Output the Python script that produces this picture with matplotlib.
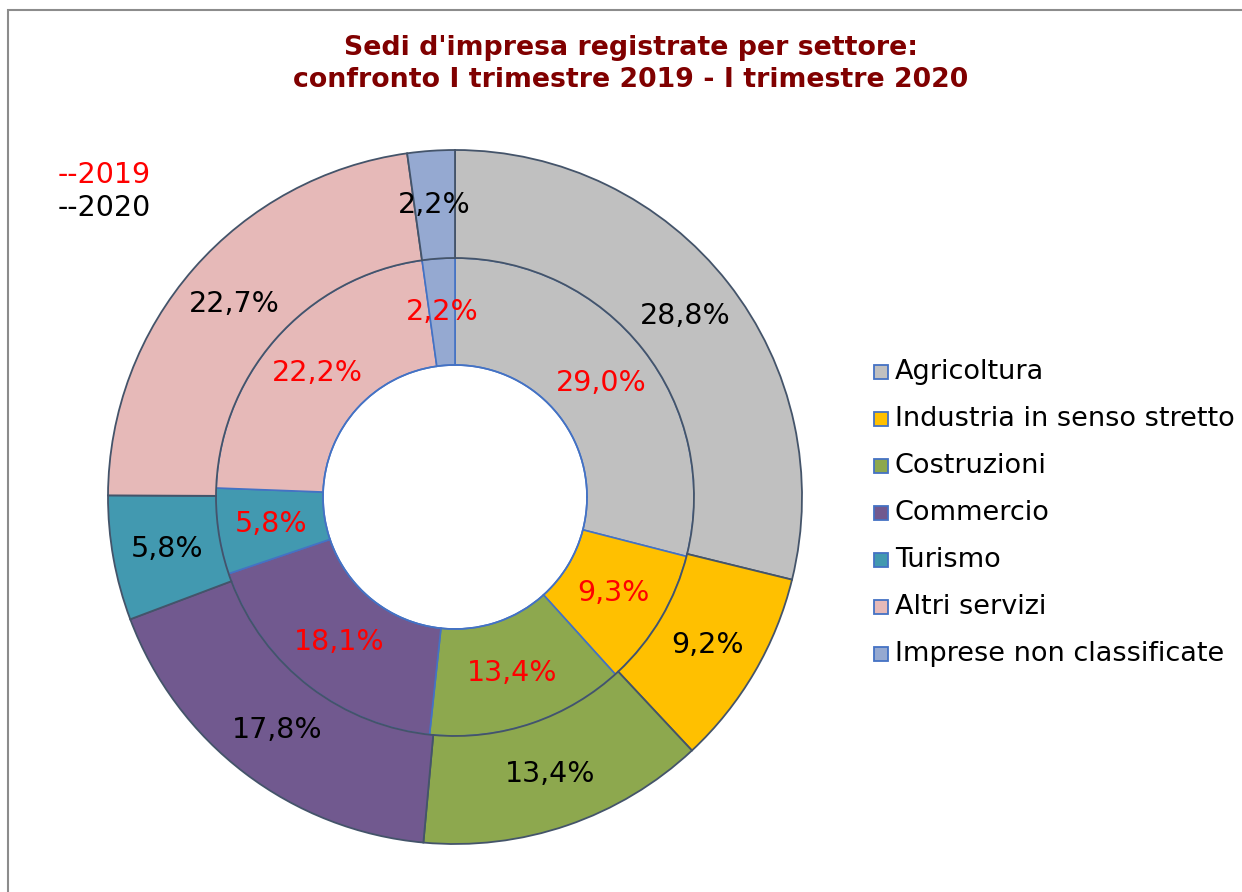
import matplotlib
matplotlib.use("Agg")
import matplotlib.pyplot as plt
from matplotlib.patches import Rectangle
import numpy as np

categories = ["Agricoltura", "Industria in senso stretto", "Costruzioni", "Commercio",
              "Turismo", "Altri servizi", "Imprese non classificate"]
values_2019 = [29.0, 9.3, 13.4, 18.1, 5.8, 22.2, 2.2]
values_2020 = [28.8, 9.2, 13.4, 17.8, 5.8, 22.7, 2.2]
colors = ["#C0C0C0", "#FFC000", "#8DA84E", "#71598F", "#4299B0", "#E6B9B8", "#95A9D1"]
title = "Sedi d'impresa registrate per settore:\nconfronto I trimestre 2019 - I trimestre 2020"

W, H = 1242, 892
fig = plt.figure(figsize=(W / 100, H / 100), dpi=100)
fig.patch.set_facecolor("white")

# frame border (left and top visible)
fig.patches.append(Rectangle((8 / W, -0.05), 1.2, (H - 10) / H + 0.05, transform=fig.transFigure,
                             fill=False, edgecolor="#8C8C8C", linewidth=1.5))

cx, cy, R = 455, 497, 347
ax = fig.add_axes([(cx - R) / W, (H - cy - R) / H, 2 * R / W, 2 * R / H])

r_hole = 132 / R
r_mid = 239 / R

fmt = lambda v: f"{v:.1f}".replace(".", ",") + "%"

# inner ring 2019
w_in, _ = ax.pie(values_2019, radius=r_mid, colors=colors, startangle=90, counterclock=False,
                 wedgeprops=dict(width=r_mid - r_hole, edgecolor="#4472C4", linewidth=1.2))
# outer ring 2020
w_out, _ = ax.pie(values_2020, radius=1.0, colors=colors, startangle=90, counterclock=False,
                  wedgeprops=dict(width=1.0 - r_mid, edgecolor="#44546A", linewidth=1.3))

ax.set_xlim(-1, 1)
ax.set_ylim(-1, 1)
ax.set_aspect("equal")
ax.axis("off")


def place(wedges, vals, rad, color):
    for w, v in zip(wedges, vals):
        ang = np.deg2rad((w.theta1 + w.theta2) / 2)
        ax.text(rad * np.cos(ang), rad * np.sin(ang), fmt(v), ha="center", va="center",
                fontsize=20.5, color=color, family="DejaVu Sans")


place(w_in, values_2019, (r_hole + r_mid) / 2, "#FF0000")
place(w_out, values_2020, (r_mid + 1.0) / 2, "#000000")

# hole outline
theta = np.linspace(0, 2 * np.pi, 400)
ax.plot(r_hole * np.cos(theta), r_hole * np.sin(theta), color="#4472C4", lw=1.2)

fig.text(631 / W, 1 - 64 / H, title, ha="center", va="center", fontsize=19.3, fontweight="bold",
         color="#800000", linespacing=1.3)

fig.text(58 / W, 1 - 175 / H, "--2019", ha="left", va="center", fontsize=20.5, color="#FF0000")
fig.text(58 / W, 1 - 208 / H, "--2020", ha="left", va="center", fontsize=20.5, color="#000000")

# legend
y0, dy = 372, 47
for i, (lab, col) in enumerate(zip(categories, colors)):
    y = y0 + i * dy
    fig.patches.append(Rectangle((874 / W, 1 - (y + 7) / H), 14 / W, 14 / H, transform=fig.transFigure,
                                 facecolor=col, edgecolor="#4472C4", linewidth=1.3))
    fig.text(895 / W, 1 - y / H, lab, ha="left", va="center", fontsize=19.5, color="black")

fig.savefig("out.png", dpi=100, facecolor="white")
